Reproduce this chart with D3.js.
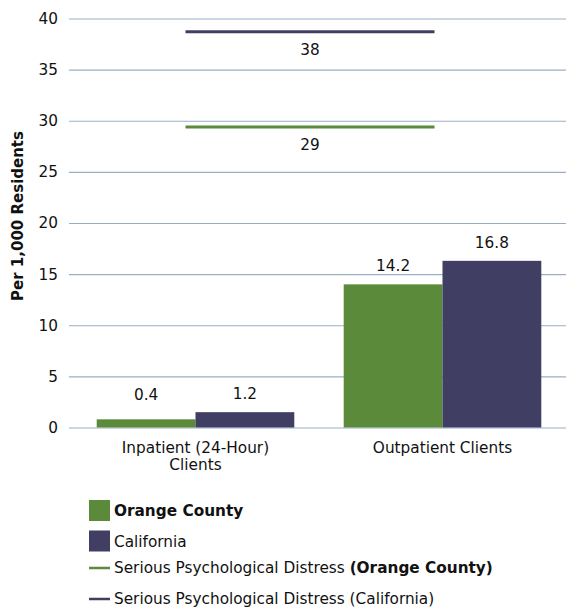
<!DOCTYPE html>
<html><head><meta charset="utf-8">
<script src="https://cdn.jsdelivr.net/npm/d3@7"></script>
<style>body{margin:0;background:#fff}svg{display:block}text{font-family:"DejaVu Sans",sans-serif;fill:#111}</style>
</head><body><svg id="c" width="566" height="608"></svg>
<script>
const categories = ["Inpatient (24-Hour)\nClients", "Outpatient Clients"];
const seriesNames = ["Orange County", "California"];
const orangeCounty = [0.8, 14.0];
const california = [1.5, 16.3];
const orangeLabels = ["0.4", "14.2"];
const californiaLabels = ["1.2", "16.8"];
const distressNames = ["Serious Psychological Distress (Orange County)", "Serious Psychological Distress (California)"];
const distressValues = [29.4, 38.7];
const distressLabels = ["29", "38"];
const yTicks = [0, 5, 10, 15, 20, 25, 30, 35, 40];

const colors = ["#5b8a3b", "#403e63"];
const FS = 15.3;
const svg = d3.select("#c");
const gLeft = 69, mLeft = 72, mRight = 566, mTop = 18.5, mBottom = 427.5;

const x = d3.scaleBand().domain(categories).range([mLeft, mRight]).paddingInner(0).paddingOuter(0);
const xs = d3.scaleBand().domain(seriesNames).range([0, x.bandwidth()]).paddingInner(0).paddingOuter(0.25);
const y = d3.scaleLinear().domain([0, 40]).range([mBottom, mTop]);

// gridlines
const yAxis = d3.axisLeft(y).tickValues(yTicks).tickSize(-(mRight - gLeft)).tickPadding(11);
const ga = svg.append("g").attr("transform", `translate(${gLeft},0)`).call(yAxis);
ga.select(".domain").remove();
ga.selectAll(".tick line").attr("stroke", "#97afc6").attr("stroke-width", 1.2);
ga.selectAll(".tick text").attr("font-size", FS).attr("fill", "#111").attr("font-family", "'DejaVu Sans',sans-serif");

// bars
const series = [orangeCounty, california];
const labels = [orangeLabels, californiaLabels];
series.forEach((vals, si) => {
  svg.append("g").selectAll("rect").data(vals).join("rect")
    .attr("x", (d, i) => x(categories[i]) + xs(seriesNames[si]))
    .attr("width", xs.bandwidth())
    .attr("y", d => y(d))
    .attr("height", d => y(0) - y(d))
    .attr("fill", colors[si]);
  svg.append("g").selectAll("text").data(vals).join("text")
    .attr("x", (d, i) => x(categories[i]) + xs(seriesNames[si]) + xs.bandwidth() / 2)
    .attr("y", d => Math.min(y(d) - 13, y(0) - 28))
    .attr("text-anchor", "middle").attr("font-size", FS)
    .text((d, i) => labels[si][i]);
});

// distress lines
distressValues.forEach((v, i) => {
  const x1 = x(categories[0]) + x.bandwidth() / 2 - 10;
  const x2 = x(categories[1]) + x.bandwidth() / 2 - 8;
  svg.append("line").attr("x1", x1).attr("x2", x2).attr("y1", y(v)).attr("y2", y(v))
    .attr("stroke", colors[i]).attr("stroke-width", 3);
  svg.append("text").attr("x", (x1 + x2) / 2).attr("y", y(v) + 23)
    .attr("text-anchor", "middle").attr("font-size", FS).text(distressLabels[i]);
});

// category labels
categories.forEach(c => {
  const cx = x(c) + x.bandwidth() / 2;
  const t = svg.append("text").attr("x", cx).attr("y", 453)
    .attr("text-anchor", "middle").attr("font-size", FS);
  c.split("\n").forEach((line, k) => t.append("tspan").attr("x", cx).attr("dy", k ? 16.5 : 0).text(line));
});

// y title
svg.append("text").attr("transform", "translate(23,216) rotate(-90)")
  .attr("text-anchor", "middle").attr("font-size", 15).attr("font-weight", "bold").text("Per 1,000 Residents");

// legend
const lg = svg.append("g");
seriesNames.forEach((n, i) => {
  const yy = 500 + i * 30.5;
  lg.append("rect").attr("x", 89).attr("y", yy).attr("width", 21).attr("height", 21).attr("fill", colors[i]);
  lg.append("text").attr("x", 114).attr("y", yy + 16).attr("font-size", FS)
    .attr("font-weight", i === 0 ? "bold" : "normal").text(n);
});
distressNames.forEach((n, i) => {
  const yy = 568 + i * 31;
  lg.append("line").attr("x1", 89).attr("x2", 110).attr("y1", yy).attr("y2", yy)
    .attr("stroke", colors[i]).attr("stroke-width", 2.5);
  const t = lg.append("text").attr("x", 114).attr("y", yy + 5).attr("font-size", FS);
  if (i === 0) {
    t.append("tspan").text("Serious Psychological Distress ");
    t.append("tspan").attr("font-weight", "bold").text("(Orange County)");
  } else {
    t.text(n);
  }
});
</script></body></html>
